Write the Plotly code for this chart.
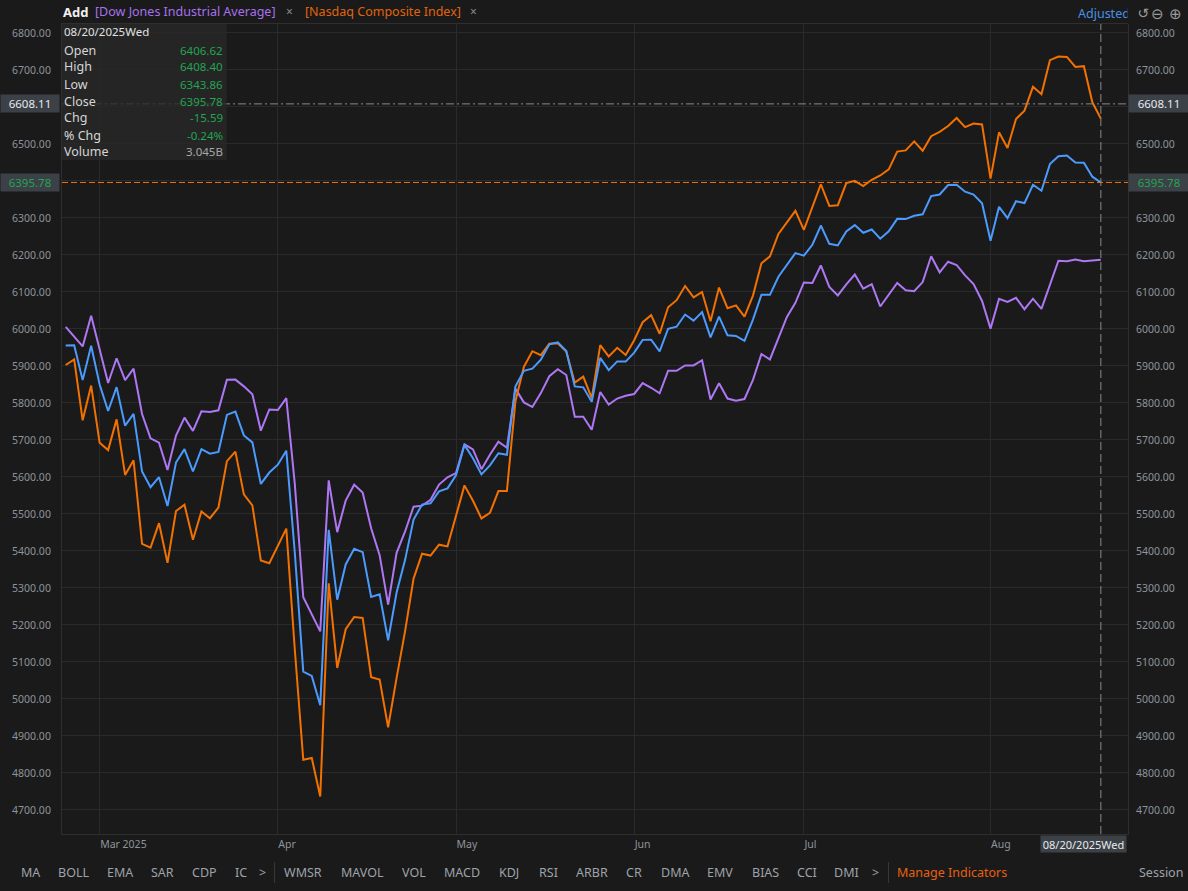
import plotly.graph_objects as go

# trading days shown on the chart (Feb 25 - Aug 20, 2025)
trading_days = {
    "02": [25, 26, 27, 28],
    "03": [3, 4, 5, 6, 7, 10, 11, 12, 13, 14, 17, 18, 19, 20, 21, 24, 25, 26, 27, 28, 31],
    "04": [1, 2, 3, 4, 7, 8, 9, 10, 11, 14, 15, 16, 17, 21, 22, 23, 24, 25, 28, 29, 30],
    "05": [1, 2, 5, 6, 7, 8, 9, 12, 13, 14, 15, 16, 19, 20, 21, 22, 23, 27, 28, 29, 30],
    "06": [2, 3, 4, 5, 6, 9, 10, 11, 12, 13, 16, 17, 18, 20, 23, 24, 25, 26, 27, 30],
    "07": [1, 2, 3, 7, 8, 9, 10, 11, 14, 15, 16, 17, 18, 21, 22, 23, 24, 25, 28, 29, 30, 31],
    "08": [1, 4, 5, 6, 7, 8, 11, 12, 13, 14, 15, 18, 19, 20],
}
dates = [f"2025-{m}-{d:02d}" for m, days in trading_days.items() for d in days]

# S&P 500 close (main series)
sp500 = [
    5955.25, 5956.06, 5861.57, 5954.50,
    5849.72, 5778.15, 5842.63, 5738.52, 5770.20, 5614.56, 5572.07, 5599.30, 5521.52, 5638.94,
    5675.12, 5614.66, 5675.29, 5662.89, 5667.56, 5767.57, 5776.65, 5712.20, 5693.31, 5580.94, 5611.85,
    5633.07, 5670.97, 5396.52, 5074.08, 5062.25, 4982.77, 5456.90, 5268.05, 5363.36, 5405.97,
    5396.63, 5275.70, 5282.70, 5158.20, 5287.76, 5375.86, 5484.77, 5525.21, 5528.75, 5560.83, 5569.06,
    5604.14, 5686.67, 5650.38, 5606.91, 5631.28, 5663.94, 5659.91, 5844.19, 5886.55, 5892.58,
    5916.93, 5958.38, 5963.60, 5940.46, 5844.61, 5842.01, 5802.82, 5921.54, 5888.55, 5912.17, 5911.69,
    5935.94, 5970.37, 5970.81, 5939.30, 6000.36, 6005.88, 6038.81, 6022.24, 6045.26, 5976.97,
    6033.11, 5982.72, 5980.87, 5967.84, 6025.17, 6092.18, 6092.16, 6141.02, 6173.07, 6204.95,
    6198.01, 6227.42, 6279.35, 6229.98, 6225.52, 6263.26, 6280.46, 6259.75, 6268.56, 6243.76, 6263.70,
    6297.36, 6296.79, 6305.60, 6309.62, 6358.91, 6363.35, 6388.64, 6389.77, 6370.86, 6362.90, 6339.39,
    6238.01, 6329.94, 6299.19, 6345.06, 6340.00, 6389.45, 6373.45, 6445.76, 6466.58, 6468.54,
    6449.80, 6449.15, 6411.37, 6395.78,
]

# Dow Jones Industrial Average close
dow_close = [
    43621.16, 43433.12, 43239.50, 43840.91,
    43191.24, 42520.99, 43006.59, 42579.08, 42801.72, 41911.71, 41433.48, 41350.93, 40813.57, 41488.19,
    41841.63, 41581.31, 41964.63, 41953.32, 41985.35, 42583.32, 42587.50, 42454.79, 42299.70, 41583.90, 42001.76,
    41989.96, 42225.32, 40545.93, 38314.86, 37965.60, 37645.59, 40608.45, 39593.66, 40212.71, 40524.79,
    40368.96, 39669.39, 39142.23, 38170.41, 39186.98, 39606.57, 40093.40, 40113.50, 40227.59, 40527.62, 40669.36,
    40752.96, 41317.43, 41218.83, 40829.00, 41113.97, 41368.45, 41249.38, 42410.10, 42140.43, 42051.06,
    42322.75, 42654.74, 42792.07, 42677.24, 41860.44, 41859.09, 41603.07, 42343.65, 42098.70, 42215.73, 42270.07,
    42305.48, 42519.64, 42427.74, 42319.74, 42762.87, 42761.76, 42866.87, 42865.77, 42967.62, 42197.79,
    42515.09, 42215.80, 42171.66, 42206.82, 42581.78, 43089.02, 42982.43, 43386.84, 43819.27, 44094.77,
    44494.94, 44484.42, 44828.53, 44406.36, 44240.76, 44458.30, 44650.64, 44371.51, 44459.65, 44023.29, 44254.78,
    44484.49, 44342.19, 44323.07, 44502.44, 45010.29, 44693.91, 44901.92, 44837.56, 44632.99, 44461.28, 44130.98,
    43588.58, 44173.64, 44111.74, 44193.12, 43968.64, 44175.61, 43975.09, 44458.61, 44922.27, 44911.82,
    44946.12, 44911.26, 44922.27, 44938.31,
]

# Nasdaq Composite close
nasdaq_close = [
    19026.39, 19075.26, 18544.42, 18847.28,
    18350.19, 18285.16, 18552.73, 18069.26, 18196.22, 17468.32, 17436.10, 17648.45, 17303.01, 17754.09,
    17808.66, 17504.12, 17750.79, 17691.63, 17784.05, 18188.59, 18271.86, 17899.01, 17804.03, 17322.99, 17299.29,
    17449.89, 17601.05, 16550.61, 15587.79, 15603.26, 15267.91, 17124.97, 16387.31, 16724.46, 16831.48,
    16823.17, 16307.16, 16286.45, 15870.90, 16300.42, 16708.05, 17166.04, 17382.94, 17366.13, 17461.32, 17446.34,
    17710.74, 17977.73, 17844.24, 17689.66, 17738.16, 17928.14, 17928.92, 18708.34, 19010.09, 19146.81,
    19112.32, 19211.10, 19215.46, 19142.71, 18872.64, 18925.74, 18737.21, 19199.16, 19100.94, 19175.87, 19113.77,
    19242.61, 19398.96, 19460.49, 19298.45, 19529.95, 19591.24, 19714.99, 19615.88, 19662.49, 19406.83,
    19701.21, 19521.09, 19546.27, 19447.41, 19630.97, 19912.53, 19973.55, 20167.91, 20273.46, 20369.73,
    20202.89, 20393.13, 20601.10, 20412.52, 20418.46, 20611.34, 20630.67, 20585.53, 20640.33, 20677.80, 20730.49,
    20885.65, 20895.66, 20974.17, 20892.69, 21020.02, 21057.96, 21108.32, 21178.58, 21098.29, 21129.67, 21122.45,
    20650.13, 21053.58, 20916.55, 21169.42, 21242.70, 21450.02, 21385.40, 21681.90, 21713.14, 21710.67,
    21622.98, 21629.77, 21314.95, 21172.86,
]

# compare mode: every index is rebased onto the S&P close of Feb 24
sp500_base = 5983.25
dow_base = 43461.21
nasdaq_base = 19286.93
dow_cmp = [v * sp500_base / dow_base for v in dow_close]
nasdaq_cmp = [v * sp500_base / nasdaq_base for v in nasdaq_close]

y_ticks = list(range(4700, 6801, 100))
hidden_ticks = [6600, 6400]   # covered by the price tags
month_ticks = ["2025-03-03", "2025-04-01", "2025-05-01", "2025-06-02", "2025-07-01", "2025-08-01"]
month_labels = ["Mar 2025", "Apr", "May", "Jun", "Jul", "Aug"]

cross_date = "2025-08-20"
cross_label = "08/20/2025Wed"
cross_price = 6608.11
last_close = 6395.78

tip_labels = ["Open", "High", "Low", "Close", "Chg", "% Chg", "Volume"]
tip_values = ["6406.62", "6408.40", "6343.86", "6395.78", "-15.59", "-0.24%", "3.045B"]

indicators = ["MA", "BOLL", "EMA", "SAR", "CDP", "IC", ">", "WMSR", "MAVOL", "VOL", "MACD", "KDJ",
              "RSI", "ARBR", "CR", "DMA", "EMV", "BIAS", "CCI", "DMI", ">"]
indicator_x = [28, 72, 118, 161, 203, 239, 261, 301, 361, 413, 461, 508,
               547, 591, 633, 674, 719, 765, 806, 846, 875]

# colours / geometry
W, H = 1188, 891
L, R, T, B = 60, 1128, 24, 834
BG = "#1a1a1a"
GRID = "#2a2a2a"
BORDER = "#2f2f2f"
TXT = "#8e949b"
BLUE = "#4b9bff"
ORANGE = "#f37100"
PURPLE = "#ae77f4"
BOX = "#3c4147"
GREEN = "#22a651"
FONT = "Noto Sans"

Y_LO, Y_HI = 4635, 6824


def px(x):
    return (x - L) / (R - L)


def py(y):
    return (B - y) / (B - T)


fig = go.Figure()
fig.add_trace(go.Scatter(x=dates, y=dow_cmp, mode="lines", name="Dow Jones Industrial Average",
                         line=dict(color=PURPLE, width=2)))
fig.add_trace(go.Scatter(x=dates, y=nasdaq_cmp, mode="lines", name="Nasdaq Composite Index",
                         line=dict(color=ORANGE, width=2)))
fig.add_trace(go.Scatter(x=dates, y=sp500, mode="lines", name="S&P 500",
                         line=dict(color=BLUE, width=2)))
# carrier for the right-hand price axis
fig.add_trace(go.Scatter(x=dates, y=sp500, mode="none", yaxis="y2", hoverinfo="skip", showlegend=False))

yax = dict(range=[Y_LO, Y_HI], tickmode="array", tickvals=y_ticks,
           ticktext=["" if v in hidden_ticks else f"{v:.2f}" for v in y_ticks], ticks="",
           zeroline=False, tickfont=dict(family=FONT, size=10.5, color=TXT), fixedrange=True)

fig.update_layout(
    width=W, height=H,
    margin=dict(l=L, r=W - R, t=T, b=H - B, pad=0),
    paper_bgcolor=BG, plot_bgcolor=BG,
    showlegend=False, hovermode=False,
    font=dict(family=FONT, size=11, color=TXT),
    xaxis=dict(type="category", categoryorder="array", categoryarray=dates,
               range=[-0.435, 125.2], tickmode="array", tickvals=month_ticks, ticktext=month_labels,
               ticklabelposition="outside right", ticks="", showgrid=True, gridcolor=GRID,
               showline=True, linecolor=BORDER, mirror=True, zeroline=False, fixedrange=True,
               tickfont=dict(family=FONT, size=10.5, color=TXT)),
    yaxis=dict(**yax, side="left", showgrid=True, gridcolor=GRID, showline=True,
               linecolor=BORDER, mirror=True, ticklabelstandoff=8),
    yaxis2=dict(**yax, side="right", overlaying="y", showgrid=False, showline=False,
                ticklabelstandoff=7),
)

# crosshair and last-close lines
fig.add_shape(type="line", xref="paper", yref="y", x0=0, x1=1, y0=cross_price, y1=cross_price,
              line=dict(color="#8a8a8a", width=1, dash="8px,3px,2px,3px"))
fig.add_shape(type="line", xref="paper", yref="y", x0=0, x1=1, y0=last_close, y1=last_close,
              line=dict(color=ORANGE, width=1, dash="6px,3px"))
fig.add_shape(type="line", xref="x", yref="paper", x0=cross_date, x1=cross_date, y0=0, y1=1,
              line=dict(color="#8a8a8a", width=1, dash="8px,4px"))

# tooltip panel
fig.add_shape(type="rect", xref="paper", yref="paper", x0=px(60), x1=px(225), y0=py(160), y1=py(24),
              fillcolor="rgba(40,40,40,0.82)", line=dict(width=0), layer="above")


def note(x, y, text, color, size=12, xanchor="center", **kw):
    # left-anchored annotations carry ~3px of padding, pull them back
    if xanchor == "left":
        x -= 3
    fig.add_annotation(x=px(x), y=py(y), xref="paper", yref="paper", text=text, showarrow=False,
                       font=dict(family=FONT, size=size, color=color), xanchor=xanchor,
                       yanchor="middle", **kw)


note(63, 32, cross_label, "#e2e2e2", size=11.5, xanchor="left")
for i, (lab, val) in enumerate(zip(tip_labels, tip_values)):
    yy = 50 + i * 17
    note(63, yy, lab, "#d6d6d6", size=12.5, xanchor="left")
    note(223, yy, val, "#a8a8a8" if lab == "Volume" else GREEN, size=11.5, xanchor="right")

# price tags on both axes
for yv, col in [(cross_price, "#e6e9ec"), (last_close, GREEN)]:
    for x, anchor, w in [(58, "right", 54), (1128, "left", 56)]:
        fig.add_annotation(x=px(x), y=yv, xref="paper", yref="y", text=f"{yv:.2f}", showarrow=False,
                           font=dict(family=FONT, size=11.5, color=col), xanchor=anchor,
                           yanchor="middle", bgcolor=BOX, width=w, height=13, borderpad=2)

# date tag under the crosshair
fig.add_annotation(x=px(1127), y=py(844), xref="paper", yref="paper", text=cross_label, showarrow=False,
                   font=dict(family=FONT, size=11, color="#e6e9ec"), xanchor="right", yanchor="middle",
                   bgcolor=BOX, width=81, height=12, borderpad=2)

# header bar
note(62, 12, "<b>Add</b>", "#f0f0f0", size=13, xanchor="left")
note(94, 12, "[Dow Jones Industrial Average]", "#a771ee", size=12.5, xanchor="left")
note(288, 12, "×", "#8a8a8a", size=12)
note(304, 12, "[Nasdaq Composite Index]", "#e0640d", size=12.5, xanchor="left")
note(472, 12, "×", "#8a8a8a", size=12)
note(1079, 13, "Adjusted", "#4a90e2", size=12.5, xanchor="left")
fig.add_annotation(x=px(1127), y=py(13), xref="paper", yref="paper", text="↺", showarrow=False,
                   font=dict(family="DejaVu Sans", size=14, color="#9a9a9a"), xanchor="left",
                   yanchor="middle", bgcolor=BG, width=20, height=18, align="right")
note(1158, 13, "⊖", "#9a9a9a", size=15)
note(1176, 13, "⊕", "#9a9a9a", size=15)

# indicator bar
for name, x in zip(indicators, indicator_x):
    note(x, 872, name, "#9ea3a9", size=12.5)
note(952, 872, "Manage Indicators", "#e8600f", size=12.5)
note(1161, 872, "Session", "#9ea3a9", size=12.5)
for x in (273, 888):
    fig.add_shape(type="line", xref="paper", yref="paper", x0=px(x), x1=px(x), y0=py(862), y1=py(883),
                  line=dict(color="#3a3a3a", width=1))

# the page's default body margin would push the figure off its frame
fig.write_html("out.html", config={"displayModeBar": False},
               post_script="document.body.style.margin='0';")
